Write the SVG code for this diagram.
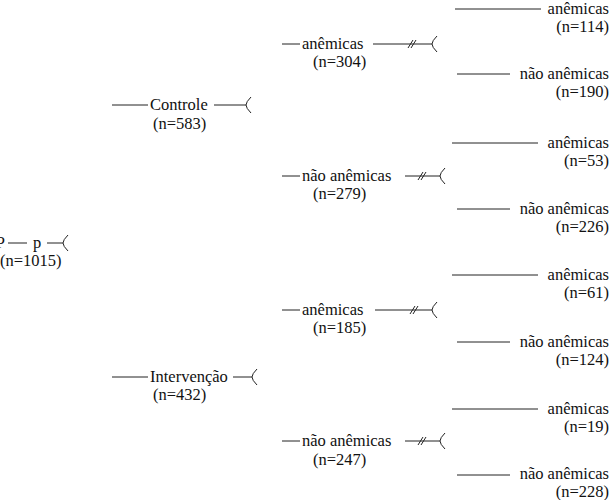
<svg xmlns="http://www.w3.org/2000/svg" width="616" height="500" viewBox="0 0 616 500">
<style>
text{font-family:"Liberation Serif","DejaVu Serif",serif;font-size:16.5px;fill:#111}
.l{stroke:#222;stroke-width:1;fill:none}
.r{text-anchor:end}
</style>
<rect width="616" height="500" fill="#fff"/>
<g id="connectors" class="l">
<path d="M8 243H27M47 243H63M68 235Q63 240 63 243Q63 246 68 251"/>
<path d="M112 105H148M214 105H246M251 97Q246 102 246 105Q246 108 251 113"/>
<path d="M112 377H148M233 377H252M257 369Q252 374 252 377Q252 380 257 385"/>
<path d="M282 44H300M373 44H432M437 36Q432 41 432 44Q432 47 437 52M408 48L413 40M411 48L416 40"/>
<path d="M282 176H300M405 176H440M445 168Q440 173 440 176Q440 179 445 184M418 180L423 172M421 180L426 172"/>
<path d="M282 310H300M375 310H432M437 302Q432 307 432 310Q432 313 437 318M410 314L415 306M413 314L418 306"/>
<path d="M282 441H300M405 441H440M445 433Q440 438 440 441Q440 444 445 449M418 445L423 437M421 445L426 437"/>
<path d="M455 9H541M457 74H510M452 143H538M457 209H510M452 275H538M457 342H510M452 409H538M457 475H510"/>
</g>
<g id="root"><text x="5" y="248" class="r">P</text><text x="33" y="248">p</text><text x="0" y="266">(n=1015)</text></g>
<g id="controle"><text x="150" y="110">Controle</text><text x="153" y="129">(n=583)</text></g>
<g id="intervencao"><text x="150" y="382">Intervenção</text><text x="153" y="400">(n=432)</text></g>
<g id="c-anem"><text x="302" y="49">anêmicas</text><text x="313" y="67">(n=304)</text></g>
<g id="c-nanem"><text x="302" y="181">não anêmicas</text><text x="313" y="199">(n=279)</text></g>
<g id="i-anem"><text x="302" y="315">anêmicas</text><text x="313" y="333">(n=185)</text></g>
<g id="i-nanem"><text x="302" y="446">não anêmicas</text><text x="313" y="465">(n=247)</text></g>
<g id="leaf1"><text x="609" y="14" class="r">anêmicas</text><text x="609" y="32" class="r">(n=114)</text></g>
<g id="leaf2"><text x="609" y="79" class="r">não anêmicas</text><text x="609" y="97" class="r">(n=190)</text></g>
<g id="leaf3"><text x="609" y="148" class="r">anêmicas</text><text x="609" y="166" class="r">(n=53)</text></g>
<g id="leaf4"><text x="609" y="214" class="r">não anêmicas</text><text x="609" y="232" class="r">(n=226)</text></g>
<g id="leaf5"><text x="609" y="280" class="r">anêmicas</text><text x="609" y="298" class="r">(n=61)</text></g>
<g id="leaf6"><text x="609" y="347" class="r">não anêmicas</text><text x="609" y="365" class="r">(n=124)</text></g>
<g id="leaf7"><text x="609" y="414" class="r">anêmicas</text><text x="609" y="432" class="r">(n=19)</text></g>
<g id="leaf8"><text x="609" y="479" class="r">não anêmicas</text><text x="609" y="497" class="r">(n=228)</text></g>
</svg>
